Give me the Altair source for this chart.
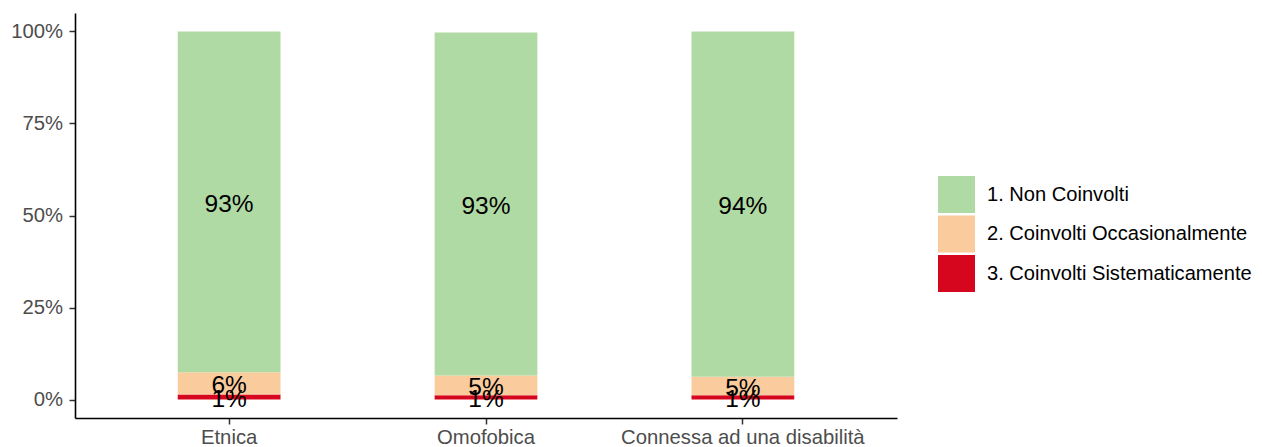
import altair as alt
import pandas as pd

categories = ["Etnica", "Omofobica", "Connessa ad una disabilità"]
levels = ["1. Non Coinvolti", "2. Coinvolti Occasionalmente", "3. Coinvolti Sistematicamente"]
non_coinvolti = [0.926, 0.9315, 0.938]
occasionalmente = [0.0605, 0.054, 0.050]
sistematicamente = [0.0135, 0.0115, 0.012]
colors = ["#B0DAA3", "#FACB9C", "#D7061F"]

rows = []
for i, cat in enumerate(categories):
    base = 0.0
    for order, (lev, vals) in enumerate(
        [(levels[2], sistematicamente), (levels[1], occasionalmente), (levels[0], non_coinvolti)]
    ):
        v = vals[i]
        rows.append({"cat": cat, "level": lev, "value": v, "ord": order, "mid": base + v / 2})
        base += v
df = pd.DataFrame(rows)

FONT = "Liberation Sans"

x_enc = alt.X(
    "cat:N",
    sort=categories,
    title=None,
    scale=alt.Scale(paddingInner=0.6, paddingOuter=0.4),
    axis=alt.Axis(labelAngle=0, labelFontSize=20.3, labelColor="#4D4D4D", labelFont=FONT,
                  labelLimit=0, tickSize=6, tickColor="#333333", tickWidth=1.5, labelPadding=3,
                  domainColor="#000000", domainWidth=1.6),
)

bars = alt.Chart(df).mark_bar().encode(
    x=x_enc,
    y=alt.Y(
        "value:Q",
        stack="zero",
        title=None,
        scale=alt.Scale(domain=[-0.05, 1.05], nice=False),
        axis=alt.Axis(values=[0, 0.25, 0.5, 0.75, 1], format=".0%", grid=False,
                      labelFontSize=20.3, labelColor="#4D4D4D", labelFont=FONT,
                      tickSize=6, tickColor="#333333", tickWidth=1.5, labelPadding=6.5,
                      domainColor="#000000", domainWidth=1.6),
    ),
    color=alt.Color(
        "level:N",
        scale=alt.Scale(domain=levels, range=colors),
        legend=alt.Legend(
            title=None, orient="none", legendX=863, legendY=163,
            symbolType="square", symbolSize=1369, symbolStrokeWidth=0,
            labelFontSize=20.1, labelFont=FONT, labelColor="#000000", labelLimit=0,
            labelOffset=12, rowPadding=2.5, padding=0,
        ),
    ),
    order=alt.Order("ord:Q", sort="ascending"),
)

labels = alt.Chart(df).mark_text(fontSize=24.5, font=FONT, color="#000000", baseline="middle", dy=3).encode(
    x=alt.X("cat:N", sort=categories),
    y=alt.Y("mid:Q"),
    text=alt.Text("value:Q", format=".0%"),
)

chart = (
    alt.layer(bars, labels)
    .properties(
        width=822,
        height=405,
        background="white",
        autosize=alt.AutoSizeParams(type="none"),
        padding={"left": 67, "top": 5, "right": 357, "bottom": 30},
    )
    .configure_view(strokeWidth=0)
)

chart.save("out.html", embed_options={"renderer": "svg", "actions": False})
